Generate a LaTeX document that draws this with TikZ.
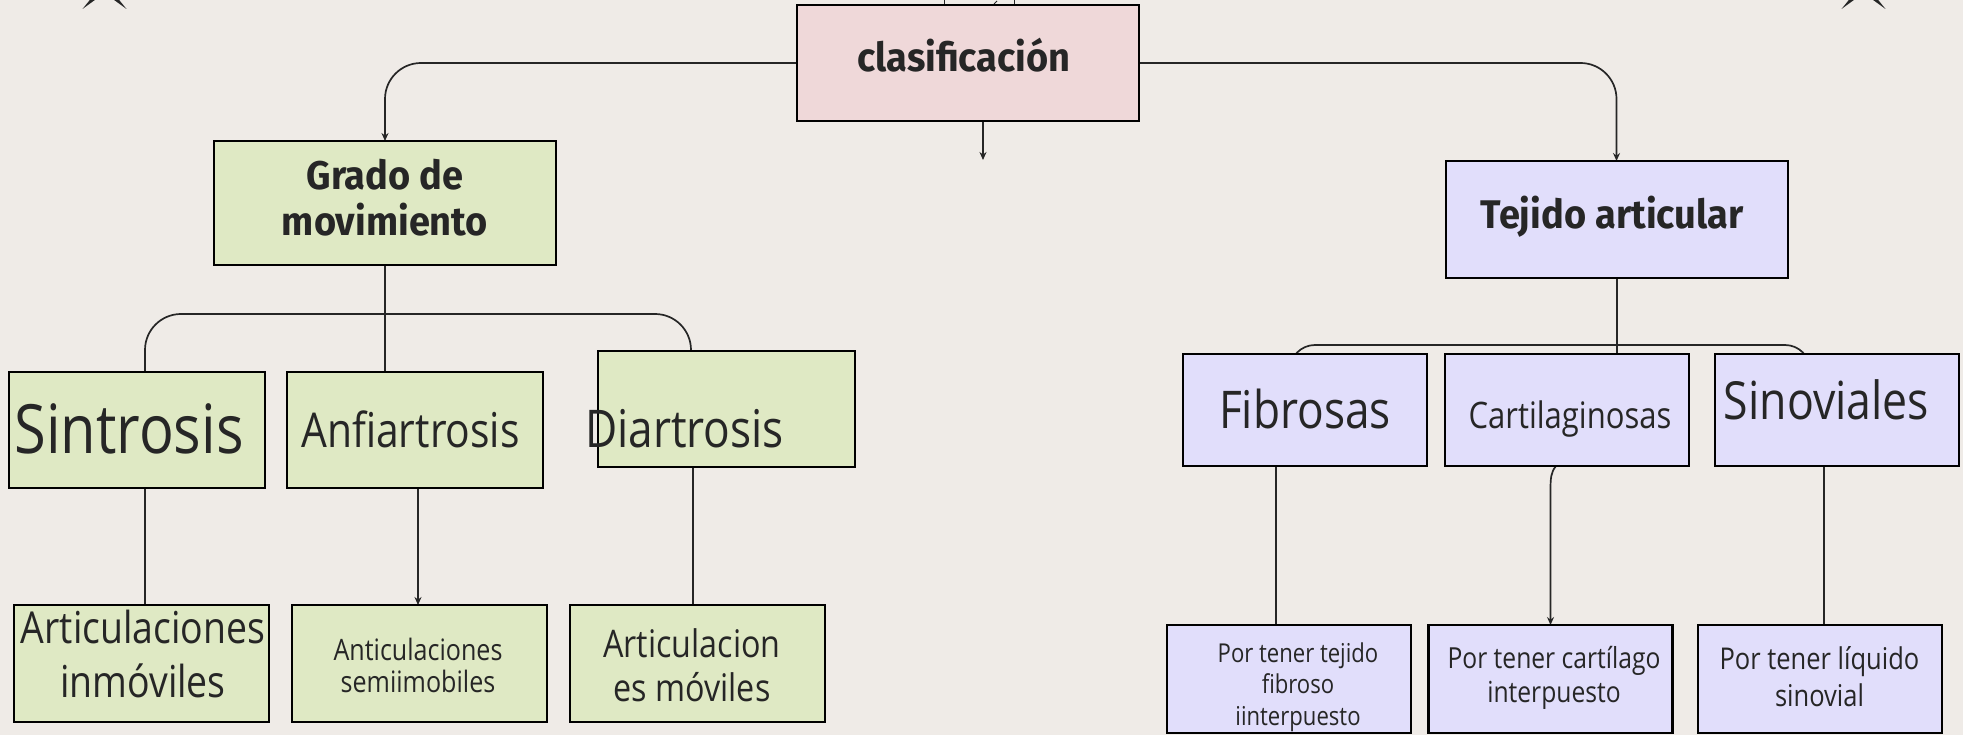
\documentclass[tikz,border=0pt]{standalone}
\usepackage{fontspec}
\newfontfamily\osf{Open Sans}[FakeStretch=0.85]
\newfontfamily\hdf{Fira Sans}[FakeStretch=0.95]
\usetikzlibrary{arrows.meta,backgrounds}
\definecolor{bgc}{HTML}{EFEBE7}
\definecolor{gfill}{HTML}{DFE9C4}
\definecolor{lfill}{HTML}{E1DEFB}
\definecolor{pfill}{HTML}{EFD8D9}
\definecolor{tc}{HTML}{262626}
\newcommand\fsz[2]{\fontsize{#1pt}{#2pt}\selectfont}
\tikzset{
  box/.style={draw=black, line width=2.8pt, inner sep=0pt, outer sep=0pt},
  gbox/.style={box, fill=gfill, minimum width=255pt, minimum height=116pt},
  lbox/.style={box, fill=lfill, minimum width=244pt, minimum height=112pt},
  pbox/.style={box, fill=pfill, minimum width=342pt, minimum height=116pt},
  conn/.style={line width=1.7pt, draw=tc},
  arr/.style={conn, -{Stealth[length=8pt,width=7pt]}},
  txt/.style={anchor=base, align=center, text=tc, inner sep=0pt, osf},
  osf/.style={font=\osf},
  hd/.style={anchor=base, align=center, text=tc, inner sep=0pt, font=\hdf\bfseries\fsz{40}{46}},
  starshape/.style={fill=tc}
}
\begin{document}
\begin{tikzpicture}[x=1pt,y=-1pt]
\useasboundingbox (0,0) rectangle (1963,735);
\begin{scope}[on background layer]
  \fill[bgc] (0,0) rectangle (1963,735);
\end{scope}
\clip (0,0) rectangle (1963,735);

% partial stars at the top edge
\foreach \cx in {104.5,1863.5}{
  \fill[starshape] (\cx,-12) +(-22,21) -- +(0,5) -- +(22,21) -- +(5,0) -- +(22,-21) -- +(0,-5) -- +(-22,-21) -- +(-5,0) -- cycle;
}
% tiny marks above the title box
\draw[line width=1pt, tc] (944,0) -- (944,5) (1014,0) -- (1014,5);
\draw[line width=1pt, tc] (994,4) -- (997,1);

% boxes
\node[pbox] (clas) at (968,63) {};
\node[gbox, minimum width=342pt, minimum height=124pt] (grado) at (385,203) {};
\node[lbox, minimum width=342pt, minimum height=117pt] (tej) at (1617,219.5) {};

\node[gbox, minimum width=256pt] (sin) at (137,430) {};
\node[gbox, minimum width=256pt] (anf) at (415,430) {};
\node[gbox, minimum width=257pt] (dia) at (726.5,409) {};

\node[gbox, minimum height=117pt] (inm) at (141.5,663.5) {};
\node[gbox, minimum height=117pt] (semi) at (419.5,663.5) {};
\node[gbox, minimum height=117pt] (mov) at (697.5,663.5) {};

\node[lbox] (fib) at (1305,410) {};
\node[lbox] (car) at (1567,410) {};
\node[lbox] (sinv) at (1837,410) {};

\node[lbox, minimum height=108pt] (pt1) at (1289,679) {};
\node[lbox, minimum height=108pt] (pt2) at (1550.5,679) {};
\node[lbox, minimum height=108pt] (pt3) at (1820,679) {};

% texts (base anchor = baseline of the last line)
\node[hd] (tclas) at (964,72) {clasificación};
\node[hd] (tgrado) at (385,236) {Grado de\\movimiento};
\node[hd] (ttej) at (1612,229) {Tejido articular};

\node[txt, font=\osf\fsz{68}{72}] (tsin) at (129,453) {Sintrosis};
\node[txt, font=\osf\fsz{48}{54}] (tanf) at (410.5,447) {Anfiartrosis};
\node[txt, font=\osf\fsz{52}{56}] (tdia) at (684.5,447) {Diartrosis};

\node[txt, font=\osf\fsz{44}{54}] (tinm) at (143,697) {Articulaciones\\inmóviles};
\node[txt, font=\osf\fsz{29.5}{32}] (tsemi) at (418,692) {Anticulaciones\\semiimobiles};
\node[txt, font=\osf\fsz{38}{44}] (tmov) at (692,701) {Articulacion\\es móviles};

\node[txt, font=\osf\fsz{52}{56}] (tfib) at (1305,428) {Fibrosas};
\node[txt, font=\osf\fsz{36.5}{40}] (tcar) at (1570,428) {Cartilaginosas};
\node[txt, font=\osf\fsz{52.5}{56}] (tsinv) at (1826.5,419) {Sinoviales};

\node[txt, font=\osf\fsz{26}{31.5}] (tpt1) at (1298,725) {Por tener tejido\\fibroso\\iinterpuesto};
\node[txt, font=\osf\fsz{29}{34}] (tpt2) at (1554,702) {Por tener cartílago\\interpuesto};
\node[txt, font=\osf\fsz{30}{37}] (tpt3) at (1819.5,706) {Por tener líquido\\sinovial};

% connectors (behind the boxes)
\coordinate (clasout) at (983,160);
\coordinate (lbar) at (145,314);
\coordinate (rbar) at (691,314);
\coordinate (tl) at (1290,390);
\coordinate (tr) at (1810,390);
\coordinate (cbend) at (1550.5,490);
\begin{scope}[on background layer]
  \draw[arr, rounded corners=36pt] (clas.west) -| (grado.north);
  \draw[arr, rounded corners=36pt] (clas.east) -| ([xshift=-0.5pt]tej.north);
  \draw[arr] (clas.south -| clasout) -- (clasout);

  \draw[conn] (grado.south) -- (grado.south |- anf.north);
  \draw[conn, rounded corners=36pt] (sin.north -| lbar) -- (lbar) -- (rbar) -- (dia.north -| rbar);

  \draw[conn] ([xshift=8pt]sin.south) -- ([xshift=8pt]sin.south |- inm.north);
  \draw[arr] ([xshift=3pt]anf.south) -- ([xshift=3pt]anf.south |- semi.north);
  \draw[conn] ([xshift=-33.5pt]dia.south) -- ([xshift=-33.5pt]dia.south |- mov.north);

  \draw[conn] (tej.south) -- (tej.south |- car.north);
  \draw[conn, rounded corners=25pt] (tl) -- (tl |- 0,345) -- (tr |- 0,345) -- (tr);

  \draw[conn] ([xshift=-29pt]fib.south) -- ([xshift=-29pt]fib.south |- pt1.north);
  \draw[arr] ([xshift=-11pt]car.south) .. controls (1551,472) and (1550.5,478) .. (cbend) -- (pt2.north);
  \draw[conn] ([xshift=-13pt]sinv.south) -- ([xshift=-13pt]sinv.south |- pt3.north);
\end{scope}
\end{tikzpicture}
\end{document}
